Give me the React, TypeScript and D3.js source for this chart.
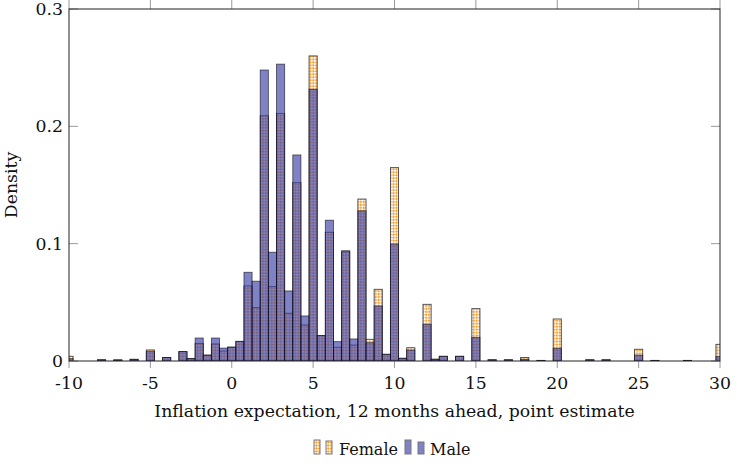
import React from 'react';
import { scaleLinear } from 'd3';

// bin centres (width 0.5) and densities
const bins = [-10, -8, -7, -6, -5, -4, -3, -2.5, -2, -1.5, -1, -0.5, 0, 0.5, 1, 1.5, 2, 2.5, 3, 3.5, 4, 4.5, 5, 5.5, 6, 6.5, 7, 7.5, 8, 8.5, 9, 9.5, 10, 10.5, 11, 12, 12.5, 13, 14, 15, 16, 17, 18, 19, 20, 22, 23, 25, 26, 28, 30];
const female = [0.004, 0.001, 0.001, 0.0015, 0.0094, 0.003, 0.008, 0.002, 0.015, 0.005, 0.0145, 0.0085, 0.0115, 0.0165, 0.064, 0.0455, 0.209, 0.0634, 0.211, 0.0407, 0.152, 0.0307, 0.26, 0.0216, 0.1097, 0.0117, 0.093, 0.0136, 0.138, 0.0185, 0.0611, 0.0057, 0.1648, 0.0023, 0.0113, 0.0483, 0.0015, 0.004, 0.004, 0.0446, 0.001, 0.001, 0.003, 0.0005, 0.0358, 0.001, 0.001, 0.01, 0.0005, 0.0005, 0.0142];
const male = [0.002, 0.001, 0.0008, 0.0012, 0.008, 0.003, 0.008, 0.002, 0.0196, 0.005, 0.0196, 0.011, 0.012, 0.0168, 0.0756, 0.068, 0.248, 0.0927, 0.253, 0.0597, 0.1756, 0.0384, 0.2316, 0.0216, 0.12, 0.0165, 0.094, 0.0188, 0.128, 0.0156, 0.0469, 0.0057, 0.0997, 0.0023, 0.0094, 0.0313, 0.0015, 0.004, 0.004, 0.0202, 0.001, 0.001, 0.0015, 0.0005, 0.0108, 0.001, 0.001, 0.0051, 0.0005, 0.0005, 0.0037];

const xTicks = [-10, -5, 0, 5, 10, 15, 20, 25, 30];
const yTicks = [0, 0.1, 0.2, 0.3];
const binWidth = 0.5;

const ORANGE = '#f6a035';
const BLUE = '#3a41a8';
const FONT = 'DejaVu Serif, serif';
const FS = 17.3;

const App = () => {
  const width = 746;
  const height = 467;
  const margin = { top: 9, right: 26, bottom: 106, left: 69 };

  const xScale = scaleLinear().domain([-10, 30]).range([margin.left, width - margin.right]);
  const yScale = scaleLinear().domain([0, 0.3]).range([height - margin.bottom, margin.top]);

  const x0 = xScale(-10);
  const x1 = xScale(30);
  const y0 = yScale(0);
  const y1 = yScale(0.3);
  const bw = xScale(binWidth) - xScale(0);

  return (
    <svg width={width} height={height} style={{ position: 'absolute', left: 0, top: 0 }}>
      <defs>
        <pattern id="fpat" width={4.2} height={4.2} patternUnits="userSpaceOnUse" patternTransform="rotate(45)">
          <rect width={4.2} height={4.2} fill={ORANGE} />
          <rect width={2.1} height={2.1} fill="white" />
          <rect x={2.1} y={2.1} width={2.1} height={2.1} fill="white" />
        </pattern>
        <clipPath id="plotclip">
          <rect x={x0} y={y1} width={x1 - x0} height={y0 - y1} />
        </clipPath>
      </defs>
      <rect width={width} height={height} fill="white" />

      <g clipPath="url(#plotclip)">
        {bins.map((b, i) => (
          <rect
            key={'f' + i}
            x={xScale(b) - bw / 2}
            y={yScale(female[i])}
            width={bw}
            height={y0 - yScale(female[i])}
            fill="url(#fpat)"
            stroke="#444"
            strokeWidth={0.9}
          />
        ))}
        {bins.map((b, i) => (
          <rect
            key={'m' + i}
            x={xScale(b) - bw / 2}
            y={yScale(male[i])}
            width={bw}
            height={y0 - yScale(male[i])}
            fill={BLUE}
            fillOpacity={0.65}
            stroke="black"
            strokeOpacity={0.6}
            strokeWidth={0.9}
          />
        ))}
      </g>

      {/* ticks */}
      {xTicks.map(t => (
        <g key={'xt' + t}>
          <line x1={xScale(t)} x2={xScale(t)} y1={y0} y2={y0 + 7} stroke="#999" />
          <line x1={xScale(t)} x2={xScale(t)} y1={y1} y2={y1 - 9} stroke="#999" />
          <text x={xScale(t)} y={y0 + 28} textAnchor="middle" fontFamily={FONT} fontSize={FS} fill="#111">
            {t}
          </text>
        </g>
      ))}
      {yTicks.map(t => (
        <g key={'yt' + t}>
          <line x1={x0} x2={x0 + 9} y1={yScale(t)} y2={yScale(t)} stroke="#999" />
          <line x1={x1} x2={x1 - 9} y1={yScale(t)} y2={yScale(t)} stroke="#999" />
          <text x={x0 - 6} y={yScale(t) + 6} textAnchor="end" fontFamily={FONT} fontSize={FS} fill="#111">
            {t}
          </text>
        </g>
      ))}

      <rect x={x0} y={y1} width={x1 - x0} height={y0 - y1} fill="none" stroke="#222" strokeWidth={1} />

      <text
        transform={`translate(17, ${(y0 + y1) / 2}) rotate(-90)`}
        textAnchor="middle"
        fontFamily={FONT}
        fontSize={FS}
        fill="#111"
      >
        Density
      </text>
      <text x={(x0 + x1) / 2} y={417} textAnchor="middle" fontFamily={FONT} fontSize={FS} fill="#111">
        Inflation expectation, 12 months ahead, point estimate
      </text>

      {/* legend */}
      <g>
        <rect x={314} y={440} width={6} height={14} fill="url(#fpat)" stroke="#777" />
        <rect x={326} y={441} width={6} height={13} fill="url(#fpat)" stroke="#777" />
        <text x={339} y={455} fontFamily={FONT} fontSize={16} fill="#111">Female</text>
        <rect x={405} y={440} width={6} height={14} fill={BLUE} fillOpacity={0.65} stroke="#777" />
        <rect x={418} y={442} width={6} height={12} fill={BLUE} fillOpacity={0.65} stroke="#777" />
        <text x={430} y={455} fontFamily={FONT} fontSize={16} fill="#111">Male</text>
      </g>
    </svg>
  );
};

export default App;
